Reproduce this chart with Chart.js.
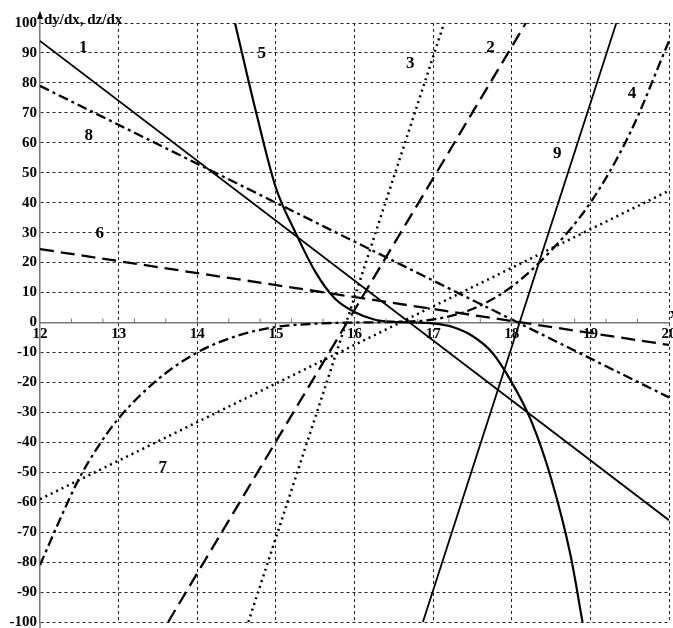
<!DOCTYPE html>
<html>
<head>
<meta charset="utf-8">
<script src="https://cdn.jsdelivr.net/npm/chart.js@4.4.1/dist/chart.umd.min.js"></script>
<style>
  html, body { margin: 0; padding: 0; background: #fff; }
  #wrap { width: 673px; height: 628px; }
</style>
</head>
<body>
<div id="wrap"><canvas id="chart" width="673" height="628"></canvas></div>
<script>
// curve values (x, dy/dx)
const x1 = [12, 20],            y1 = [94, -66];
const x2 = [13.63, 18.18],      y2 = [-100, 100];
const x3 = [14.65, 17.14],      y3 = [-100, 100];
const x4 = [12, 12.25, 12.5, 12.75, 13, 13.5, 14, 14.5, 15, 15.5, 16, 16.5, 17, 17.5, 18, 18.5, 19, 19.5, 20];
const y4 = [-81, -66, -52, -41, -32, -19, -10, -4.5, -1.5, -0.4, 0, 0.2, 1, 4.5, 12, 24, 40, 63, 94];
const x5 = [14.48, 14.75, 15, 15.25, 15.5, 15.75, 16, 16.25, 16.5, 16.75, 17, 17.25, 17.5, 17.75, 18, 18.25, 18.5, 18.75, 18.9];
const y5 = [100, 70, 45, 30, 17, 8, 3.5, 1, 0.2, 0, -0.3, -1.5, -4.5, -10, -20, -33, -52, -78, -100];
const x6 = [12, 20],            y6 = [24.5, -7.5];
const x7 = [12, 20],            y7 = [-59, 44];
const x8 = [12, 20],            y8 = [79, -25];
const x9 = [16.87, 19.33],      y9 = [-100, 100];

// curve numbers and where they sit (data coords)
const labelText = ["1", "2", "3", "4", "5", "6", "7", "8", "9"];
const labelX = [12.55, 17.73, 16.71, 19.53, 14.82, 12.76, 13.56, 12.62, 18.58];
const labelY = [91.8, 91.8, 86.5, 76.5, 89.8, 29.8, -48.5, 62.5, 56.5];

const SERIF = "'Liberation Serif', 'Times New Roman', serif";

function pts(xs, ys){ return xs.map((x,i)=>({x:x, y:ys[i]})); }

function line(xs, ys, dash, width, smooth){
  return {
    data: pts(xs, ys),
    showLine: true,
    borderColor: "#000",
    borderWidth: width,
    borderDash: dash,
    pointRadius: 0,
    fill: false,
    tension: 0,
    cubicInterpolationMode: smooth ? "monotone" : "default"
  };
}

const DOT = [2, 4];
const DASH_DOT = [10, 4, 3, 4];

const extras = {
  id: "extras",
  afterDraw(chart){
    const c = chart.ctx, a = chart.chartArea;
    const sx = chart.scales.x, sy = chart.scales.y;
    const y0 = sy.getPixelForValue(0);
    c.save();
    // axis line extension + arrow
    c.strokeStyle = "#777";
    c.lineWidth = 1.5;
    c.beginPath();
    c.moveTo(a.left, a.top); c.lineTo(a.left, 17);
    c.moveTo(a.left, a.bottom); c.lineTo(a.left, 628);
    c.stroke();
    c.fillStyle = "#000";
    c.beginPath();
    c.moveTo(a.left, 11); c.lineTo(a.left - 3, 19); c.lineTo(a.left + 3, 19);
    c.closePath(); c.fill();
    // minor ticks on the x axis
    c.strokeStyle = "#777";
    c.lineWidth = 1;
    for (let i = 1; i < 20; i++){
      const px = sx.getPixelForValue(12 + i * 0.4);
      c.beginPath(); c.moveTo(px, y0 - 4); c.lineTo(px, y0); c.stroke();
    }
    // axis title
    c.fillStyle = "#000";
    c.font = "bold 15px " + SERIF;
    c.textAlign = "left"; c.textBaseline = "alphabetic";
    c.fillText("dy/dx, dz/dx", a.left + 4, 24);
    c.fillText("x", a.right + 1, y0 - 5);
    // curve numbers
    c.font = "bold 17px " + SERIF;
    c.textAlign = "center"; c.textBaseline = "middle";
    labelText.forEach((t,i)=>{
      c.fillText(t, sx.getPixelForValue(labelX[i]), sy.getPixelForValue(labelY[i]));
    });
    c.restore();
  }
};

new Chart(document.getElementById("chart"), {
  type: "scatter",
  data: {
    datasets: [
      line(x1, y1, [], 1.8, false),
      line(x2, y2, [14, 7], 2.3, false),
      line(x3, y3, DOT, 2.5, false),
      line(x4, y4, DASH_DOT, 2.3, true),
      line(x5, y5, [], 2.2, true),
      line(x6, y6, [14, 7], 2.3, false),
      line(x7, y7, DOT, 2.5, false),
      line(x8, y8, DASH_DOT, 2.3, false),
      line(x9, y9, [], 1.8, false)
    ]
  },
  options: {
    responsive: false,
    animation: false,
    layout: { padding: { top: 23, right: 4, bottom: 6, left: 0 } },
    plugins: { legend: { display: false }, tooltip: { enabled: false } },
    scales: {
      x: {
        type: "linear", min: 12, max: 20,
        position: { y: 0 },
        afterFit: s => { s.paddingLeft = 0; s.paddingRight = 0; },
        ticks: { stepSize: 1, color: "#000", padding: 3, font: { family: SERIF, size: 15, weight: "bold" } },
        grid: {
          drawTicks: false,
          color: ctx => ctx.tick && ctx.tick.value === 12 ? "rgba(0,0,0,0)" : "#222",
          lineWidth: 1
        },
        border: { display: true, color: "#777", width: 1.5, dash: [3, 3] }
      },
      y: {
        type: "linear", min: -100, max: 100,
        afterFit: s => { s.width = 40; s.paddingTop = 0; s.paddingBottom = 0; },
        ticks: { stepSize: 10, color: "#000", padding: 3, font: { family: SERIF, size: 15, weight: "bold" } },
        grid: {
          drawTicks: false,
          color: ctx => ctx.tick && ctx.tick.value === 0 ? "rgba(0,0,0,0)" : "#222",
          lineWidth: 1
        },
        border: { display: true, color: "#777", width: 1.5, dash: [3, 3] }
      }
    }
  },
  plugins: [extras]
});
</script>
</body>
</html>
